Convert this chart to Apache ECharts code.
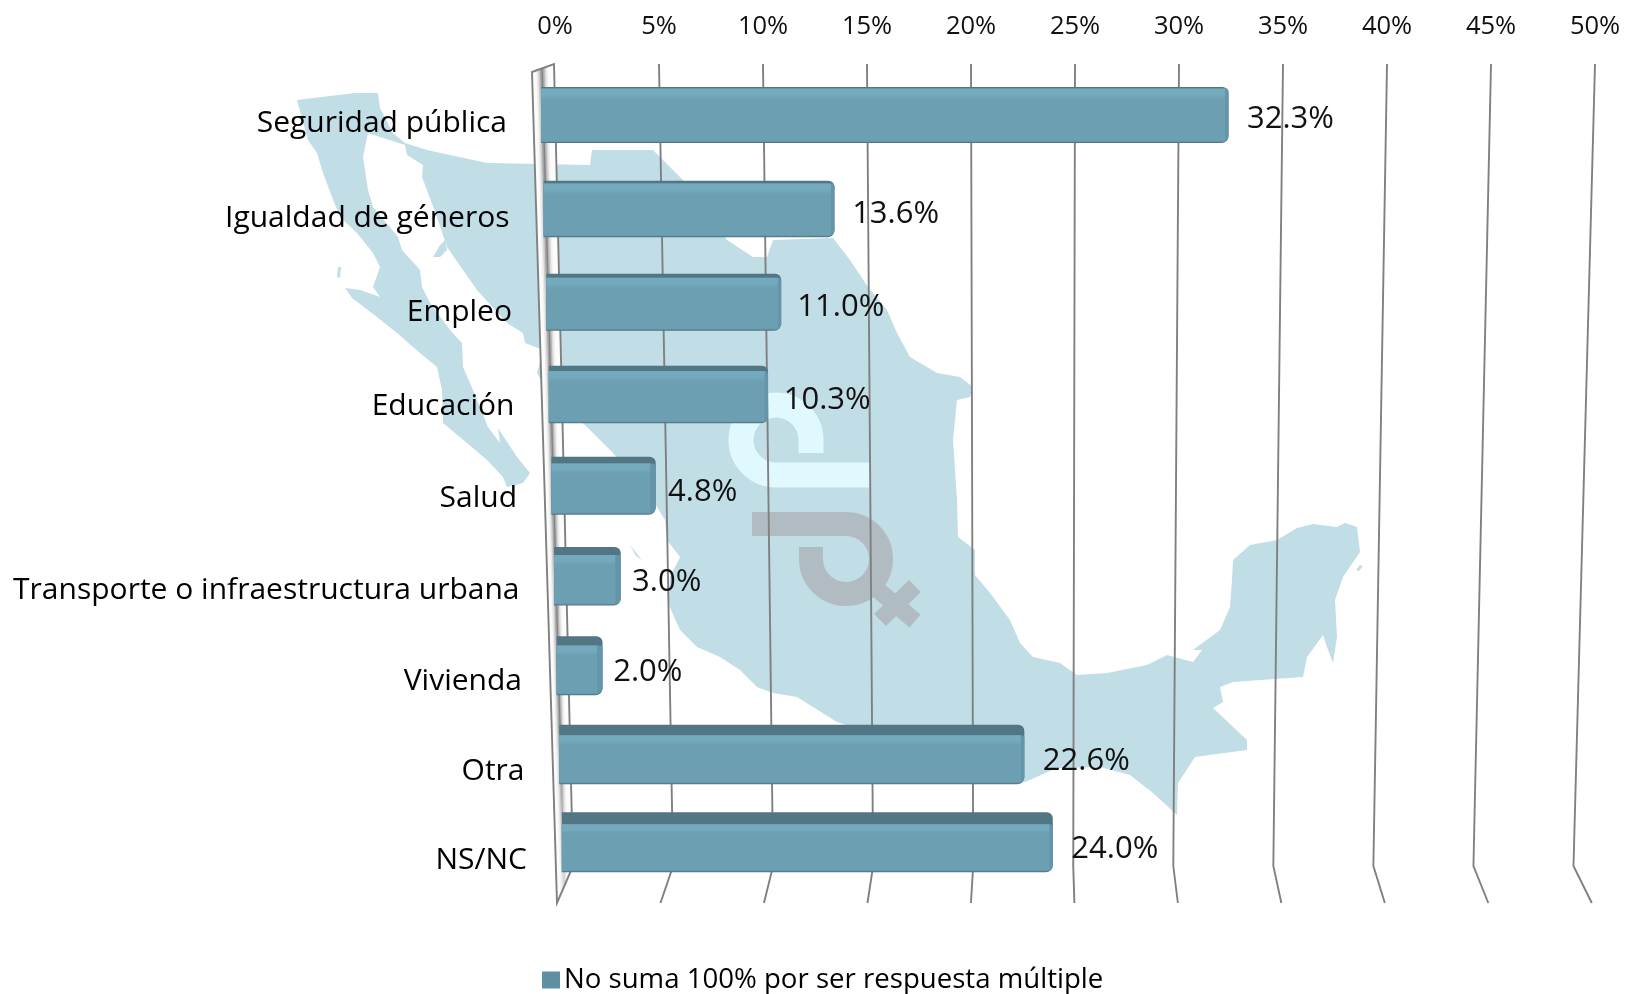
<!DOCTYPE html>
<html>
<head>
<meta charset="utf-8">
<style>
html, body { margin: 0; padding: 0; background: #fff; }
#chart { width: 1625px; height: 994px; }
</style>
<script src="https://cdn.jsdelivr.net/npm/echarts@6/dist/echarts.min.js"></script>
</head>
<body>
<div id="chart"></div>
<script>
const categories = ['Seguridad pública', 'Igualdad de géneros', 'Empleo', 'Educación', 'Salud',
    'Transporte o infraestructura urbana', 'Vivienda', 'Otra', 'NS/NC'];
const values = [32.3, 13.6, 11.0, 10.3, 4.8, 3.0, 2.0, 22.6, 24.0];
const axisTicks = [0, 5, 10, 15, 20, 25, 30, 35, 40, 45, 50];
const legendName = 'No suma 100% por ser respuesta múltiple';

const FONT = '"Open Sans", sans-serif';

// silueta del mapa de fondo (decoracion, no son datos)
const mapOutline = [[297,100],[355,93],[378,93],[380,108],[393,133],[405,143],[427,150],[487,163],[590,165],[592,150],
    [653,150],[683,180],[727,240],[753,257],[767,257],[773,240],[833,238],[850,260],[868,287],[887,310],[897,333],
    [910,357],[937,373],[960,377],[973,387],[970,397],[957,400],[953,440],[957,500],[958,537],[975,550],[975,575],
    [990,593],[1010,620],[1020,643],[1033,657],[1060,663],[1077,675],[1107,673],[1147,665],[1167,655],[1193,662],
    [1202,650],[1193,650],[1220,630],[1230,607],[1232,580],[1233,560],[1250,545],[1277,540],[1297,528],[1313,524],
    [1337,527],[1345,523],[1357,527],[1360,552],[1343,577],[1335,600],[1337,637],[1333,663],[1327,647],[1323,635],
    [1307,657],[1303,677],[1233,682],[1220,687],[1223,702],[1213,708],[1247,740],[1247,750],[1195,757],[1178,783],
    [1177,815],[1153,793],[1130,775],[1100,767],[1057,768],[1025,782],[837,722],[813,707],[797,697],[773,693],
    [757,687],[740,670],[720,657],[697,647],[680,630],[668,603],[670,577],[680,557],[667,540],[665,520],[657,507],
    [613,453],[587,427],[547,390],[537,373],[543,350],[525,343],[523,333],[507,323],[477,290],[447,247],[437,217],
    [422,177],[423,165],[407,155],[405,145],[380,137],[368,133],[363,157],[368,190],[373,207],[398,237],[402,250],
    [420,270],[422,287],[430,303],[450,330],[462,343],[463,367],[473,390],[488,427],[500,443],[498,428],[517,457],
    [530,473],[523,483],[507,487],[503,477],[487,460],[467,443],[443,423],[442,390],[437,367],[420,353],[397,333],
    [377,317],[352,298],[345,288],[360,290],[380,297],[373,287],[380,267],[373,253],[357,233],[340,217],[332,197],
    [323,173],[317,153],[308,140]];
const islands = [
    [[433,257],[440,245],[445,240],[447,250],[440,257]],
    [[338,267],[341,267],[340,278],[337,277]],
    [[1356,570],[1360,565],[1363,566],[1359,571]],
    [[630,545],[634,550],[642,560],[636,556]]
];
const MAP_COLOR = '#c1dde6';
const LOGO_LIGHT = '#e0f9ff';
const LOGO_GRAY = '#b0bcc2';

// los renglones se acercan con la perspectiva: ajuste sobre la banda de la categoria
function rowShift(i) { return 6.4 + 5.4 * i - 0.45 * i * i; }

function lerp(a, b, f) { return a + (b - a) * f; }

// pared izquierda + lineas de la malla en perspectiva
function renderGridLine(params, api) {
    const v = api.value(0);
    const rect = params.coordSys;
    const topX = api.coord([v, 0])[0];
    const d = topX - rect.x;
    const top = rect.y, elbow = rect.y + rect.height, floor = elbow + 37;
    const children = [];
    if (params.dataIndex === 0) {
        const steps = 14;
        for (let s = 0; s < steps; s++) {
            // las tiras se pisan para que no queden costuras claras
            const f0 = s / steps, f1 = Math.min(1, (s + 2) / steps), f = (s + 0.5) / steps;
            const k = Math.max(0, 1 - Math.abs(f - 0.45) / 0.32);
            const g = Math.round(252 - 130 * k * k);
            const low = Math.round(252 - 40 * k * k);
            children.push({
                type: 'polygon',
                shape: { points: [
                    [lerp(rect.x - 23, rect.x - 1, f0), lerp(top + 8, top, f0)],
                    [lerp(rect.x - 23, rect.x - 1, f1), lerp(top + 8, top, f1)],
                    [lerp(rect.x + 2, rect.x + 18, f1), lerp(floor, elbow, f1)],
                    [lerp(rect.x + 2, rect.x + 18, f0), lerp(floor, elbow, f0)]
                ] },
                style: {
                    fill: {
                        type: 'linear', x: 0, y: 0, x2: 0, y2: 1,
                        colorStops: [
                            { offset: 0, color: `rgb(${g},${g},${g})` },
                            { offset: 0.8, color: `rgb(${g},${g},${g})` },
                            { offset: 1, color: `rgb(${low},${low},${low})` }
                        ]
                    }
                }
            });
        }
        children.push({
            type: 'polygon',
            shape: { points: [[rect.x - 23, top + 8], [rect.x - 1, top], [rect.x + 18, elbow], [rect.x + 2, floor]] },
            style: { fill: 'none', stroke: '#808080', lineWidth: 1.9 }
        });
    } else {
        children.push({
            type: 'polyline',
            shape: { points: [[topX, top], [rect.x + 18 + d * 0.962, elbow], [rect.x + 2 + d * 0.995, floor]] },
            style: { fill: 'none', stroke: '#808080', lineWidth: 1.9 }
        });
    }
    return { type: 'group', children };
}

// barra 3D con su etiqueta de valor y su categoria
function renderBar(params, api) {
    const i = api.value(1);
    const v = api.value(0);
    const zero = api.coord([0, i]);
    const end = api.coord([v, i]);
    const cy = zero[1] + rowShift(i);
    const h = 56 + 0.5 * i;
    const top = cy - h / 2;
    const left = zero[0] - 14 + 2.6 * i;
    const ratio = (21.15 - 0.11 * i) / 20.82;
    const w = (end[0] - zero[0]) * ratio + 5;
    const topFace = 1.5 + 1.3 * i;
    const side = 3.5 + (i > 3 && i < 7 ? 2 : 0);
    const frontH = h - topFace - 2;
    const labelY = cy + 2 + 0.65 * i;
    return {
        type: 'group',
        children: [
            { type: 'rect', shape: { x: left, y: top, width: w, height: h, r: [0, 6, 7, 0] }, style: { fill: '#527683' } },
            { type: 'rect', shape: { x: left, y: top + topFace, width: w, height: frontH + 1, r: [0, 3, 6, 0] }, style: { fill: '#6595a8' } },
            {
                type: 'rect',
                shape: { x: left, y: top + topFace, width: w - side, height: frontH },
                style: {
                    fill: {
                        type: 'linear', x: 0, y: 0, x2: 0, y2: 1,
                        colorStops: [
                            { offset: 0, color: '#74aabe' },
                            { offset: 0.12, color: '#74aabe' },
                            { offset: 0.2, color: '#6d9fb2' },
                            { offset: 1, color: '#6d9fb2' }
                        ]
                    }
                }
            },
            {
                type: 'text',
                style: {
                    text: v.toFixed(1) + '%', x: left + w + 9.5 + Math.min(9, v * 0.6), y: labelY + 2.5 - 0.3 * i,
                    fill: '#111', font: '31px ' + FONT, align: 'left', verticalAlign: 'middle'
                }
            },
            {
                type: 'text',
                style: {
                    text: categories[i], x: zero[0] - 48 + 2.5 * i, y: labelY + 6 + 0.6 * i,
                    fill: '#000', font: '30px ' + FONT, align: 'right', verticalAlign: 'middle'
                }
            }
        ]
    };
}

function stroke(color, width) { return { fill: 'none', stroke: color, lineWidth: width }; }

const chart = echarts.init(document.getElementById('chart'));
chart.setOption({
    animation: false,
    backgroundColor: '#fff',
    grid: { left: 555, right: 30, top: 64, height: 802 },
    xAxis: {
        type: 'value',
        position: 'top',
        min: 0,
        max: 50,
        interval: 5,
        axisLine: { show: false },
        axisTick: { show: false },
        splitLine: { show: false },
        axisLabel: {
            margin: 24,
            color: '#111',
            fontFamily: FONT,
            fontSize: 25.5,
            formatter: '{value}%',
            hideOverlap: false
        }
    },
    yAxis: {
        type: 'category',
        inverse: true,
        data: categories,
        show: false
    },
    legend: {
        left: 537,
        top: 961,
        itemWidth: 18,
        itemHeight: 17,
        itemGap: 6,
        selectedMode: false,
        data: [{ name: legendName, icon: 'rect', itemStyle: { color: '#5f90a2' } }],
        textStyle: { color: '#000', fontFamily: FONT, fontSize: 27.6, padding: [0, 0, 0, -1] }
    },
    graphic: {
        elements: [
            { type: 'polygon', z: 0, silent: true, shape: { points: mapOutline }, style: { fill: MAP_COLOR } }
        ].concat(islands.map(p => ({ type: 'polygon', z: 0, silent: true, shape: { points: p }, style: { fill: MAP_COLOR } })), [
            // logo claro
            { type: 'line', z: 0, silent: true, shape: { x1: 811, y1: 453, x2: 811, y2: 440 }, style: stroke(LOGO_LIGHT, 25) },
            { type: 'arc', z: 0, silent: true, shape: { cx: 776, cy: 440, r: 35, startAngle: 0, endAngle: Math.PI / 2, clockwise: false }, style: stroke(LOGO_LIGHT, 25) },
            { type: 'line', z: 0, silent: true, shape: { x1: 776, y1: 475, x2: 870, y2: 475 }, style: stroke(LOGO_LIGHT, 25) },
            // logo gris
            { type: 'line', z: 0, silent: true, shape: { x1: 752, y1: 524, x2: 846, y2: 524 }, style: stroke(LOGO_GRAY, 24) },
            { type: 'arc', z: 0, silent: true, shape: { cx: 846, cy: 559, r: 35, startAngle: -Math.PI / 2, endAngle: Math.PI, clockwise: true }, style: stroke(LOGO_GRAY, 24) },
            { type: 'line', z: 0, silent: true, shape: { x1: 811, y1: 559, x2: 811, y2: 547 }, style: stroke(LOGO_GRAY, 24) },
            { type: 'line', z: 0, silent: true, shape: { x1: 872, y1: 585, x2: 915, y2: 621 }, style: stroke(LOGO_GRAY, 17) },
            { type: 'line', z: 0, silent: true, shape: { x1: 915, y1: 586, x2: 880, y2: 620 }, style: stroke(LOGO_GRAY, 17) }
        ])
    },
    series: [
        {
            name: 'malla',
            type: 'custom',
            z: 2,
            silent: true,
            renderItem: renderGridLine,
            encode: { x: 0 },
            data: axisTicks.map(t => [t])
        },
        {
            name: legendName,
            type: 'custom',
            z: 3,
            silent: true,
            itemStyle: { color: '#5f90a2' },
            renderItem: renderBar,
            encode: { x: 0, y: 1 },
            data: values.map((v, i) => [v, i])
        }
    ]
});

window.addEventListener('resize', () => {
    chart.resize();
});
</script>
</body>
</html>
